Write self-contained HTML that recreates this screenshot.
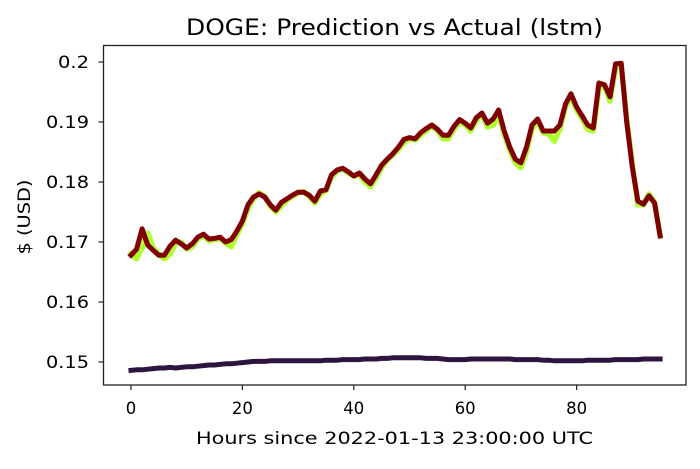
<!DOCTYPE html>
<html><head><meta charset="utf-8">
<style>
html,body{margin:0;padding:0;background:#fff;}
svg text{font-family:"DejaVu Sans","Liberation Sans",sans-serif;fill:#000;}
</style></head>
<body>
<svg id="chart" width="700" height="464" xmlns="http://www.w3.org/2000/svg">
<rect width="700" height="464" fill="#fff"/>
<text x="394.5" y="35" font-size="22" text-anchor="middle" textLength="417" lengthAdjust="spacingAndGlyphs">DOGE: Prediction vs Actual (lstm)</text>
<text x="394.5" y="444" font-size="17" text-anchor="middle" textLength="397" lengthAdjust="spacingAndGlyphs">Hours since 2022-01-13 23:00:00 UTC</text>
<text x="0" y="0" font-size="17" text-anchor="middle" textLength="75" lengthAdjust="spacingAndGlyphs" transform="translate(30,217) rotate(-90)">$ (USD)</text>
<g id="plot"></g>
<rect x="103.5" y="45.5" width="582.5" height="339.5" fill="none" stroke="#222" stroke-width="1.3"/>
</svg>
<script>
const actual = [.1678,.1688,.1722,.1695,.1686,.1678,.1678,.1693,.1703,.1697,.169,.1697,.1708,.1713,.1705,.1706,.1708,.170,.1704,.1718,.1735,.1762,.1775,.178,.1775,.1762,.1753,.1766,.1772,.1778,.1783,.1783,.1778,.1768,.1785,.1787,.1812,.182,.1823,.1817,.181,.1815,.1805,.1797,.1812,.1828,.1838,.1847,.1858,.1871,.1874,.1872,.1882,.1889,.1895,.1888,.1878,.1878,.1893,.1904,.1898,.189,.1907,.1915,.1898,.1905,.192,.1885,.1858,.1838,.1832,.1858,.1895,.1905,.1885,.1885,.1885,.1895,.193,.1947,.1925,.191,.1895,.189,.1965,.1962,.1942,.1997,.1998,.19,.1825,.1768,.1763,.1777,.1765,.171];
const predicted = [.1680,.1672,.1690,.1715,.1690,.1680,.1672,.1680,.1698,.1700,.1688,.1692,.1705,.1710,.1702,.1704,.1706,.1698,.1692,.1712,.1730,.1755,.1772,.1782,.1776,.1760,.1750,.1760,.1770,.1776,.1782,.1784,.1776,.1765,.1780,.1786,.1808,.1818,.1822,.1815,.1810,.1812,.1800,.1792,.1806,.1824,.1836,.1845,.1854,.1866,.1872,.1870,.1878,.1886,.1892,.1886,.1872,.1872,.1888,.1900,.1895,.1885,.1902,.1912,.1892,.1895,.1912,.1880,.1852,.1832,.1824,.1850,.1888,.1902,.1882,.1880,.1868,.1888,.1925,.1942,.1920,.1905,.1888,.1885,.1955,.1960,.1935,.1990,.1995,.1905,.1830,.1762,.1762,.1780,.1765,.1712];
const baseline = [.1486,.1487,.1487,.1488,.1489,.1490,.1490,.1491,.1490,.1491,.1492,.1492,.1493,.1494,.1495,.1495,.1496,.1497,.1497,.1498,.1499,.1500,.1501,.1501,.1501,.1502,.1502,.1502,.1502,.1502,.1502,.1502,.1502,.1502,.1502,.1503,.1503,.1503,.1504,.1504,.1504,.1504,.1505,.1505,.1505,.1506,.1506,.1507,.1507,.1507,.1507,.1507,.1507,.1506,.1506,.1506,.1505,.1504,.1504,.1504,.1504,.1505,.1505,.1505,.1505,.1505,.1505,.1505,.1505,.1504,.1504,.1504,.1504,.1504,.1503,.1503,.1502,.1502,.1502,.1502,.1502,.1502,.1503,.1503,.1503,.1503,.1503,.1504,.1504,.1504,.1504,.1504,.1505,.1505,.1505,.1505];
const xTicks = [0,20,40,60,80];
const yTicks = [0.15,0.16,0.17,0.18,0.19,0.2];
const yTickLabels = ["0.15","0.16","0.17","0.18","0.19","0.2"];

const X = h => 131 + 5.57*h;
const Y = v => 62 + (0.2 - v)*6000;
const NS = "http://www.w3.org/2000/svg";
const svg = document.getElementById('chart');
const plot = document.getElementById('plot');

function line(arr, color, w, name){
  const p = document.createElementNS(NS,'polyline');
  p.setAttribute('points', arr.map((v,i)=>X(i).toFixed(1)+','+Y(v).toFixed(1)).join(' '));
  p.setAttribute('fill','none');p.setAttribute('stroke',color);
  p.setAttribute('stroke-width',w);p.setAttribute('stroke-linejoin','round');p.setAttribute('stroke-linecap','square');
  
  
  plot.appendChild(p);
}
line(baseline,'#2d1540',5,'baseline-line');
line(predicted,'#adff2f',5.5,'predicted-line');
line(actual,'#800000',5,'actual-line');

xTicks.forEach(t=>{
  const l=document.createElementNS(NS,'line');
  l.setAttribute('x1',X(t));l.setAttribute('x2',X(t));l.setAttribute('y1',385);l.setAttribute('y2',390);
  l.setAttribute('stroke','#222');l.setAttribute('stroke-width','1.2');
  
  
  svg.appendChild(l);
  const tx=document.createElementNS(NS,'text');
  const s=String(t);
  tx.setAttribute('x',X(t));tx.setAttribute('y',414);tx.setAttribute('font-size','17');tx.setAttribute('text-anchor','middle');
  tx.setAttribute('textLength', s.length*10.5);tx.setAttribute('lengthAdjust','spacingAndGlyphs');
  tx.textContent=s;
  
  
  svg.appendChild(tx);
});
yTicks.forEach((t,i)=>{
  const l=document.createElementNS(NS,'line');
  l.setAttribute('x1',98.5);l.setAttribute('x2',103.5);l.setAttribute('y1',Y(t));l.setAttribute('y2',Y(t));
  l.setAttribute('stroke','#222');l.setAttribute('stroke-width','1.2');
  
  
  svg.appendChild(l);
  const tx=document.createElementNS(NS,'text');
  const s=yTickLabels[i];
  tx.setAttribute('x',89);tx.setAttribute('y',Y(t)+6);tx.setAttribute('font-size','17');tx.setAttribute('text-anchor','end');
  tx.setAttribute('textLength', s.length===4?43:31);tx.setAttribute('lengthAdjust','spacingAndGlyphs');
  tx.textContent=s;
  
  
  svg.appendChild(tx);
});
</script>
</body></html>
